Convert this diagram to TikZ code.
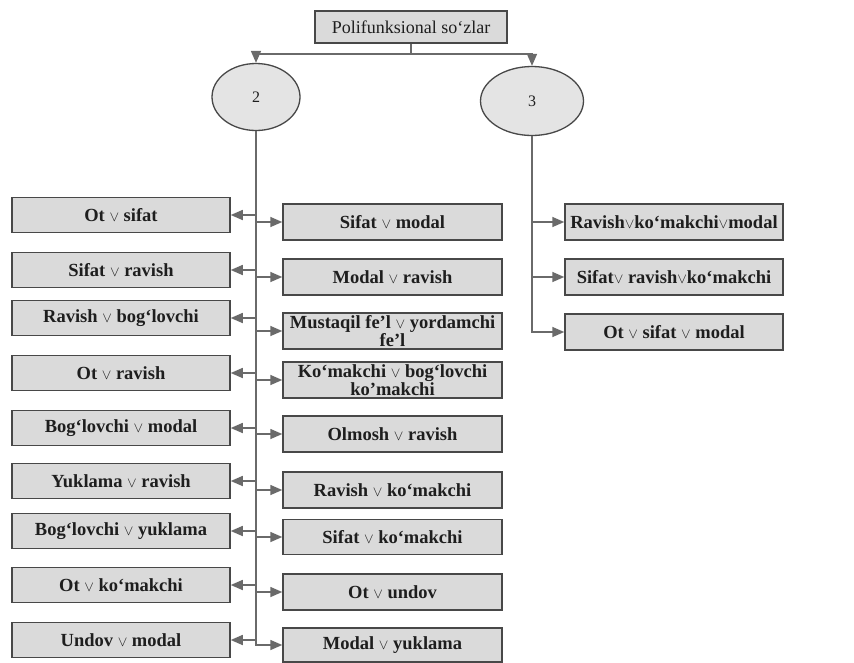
\documentclass[tikz,border=0pt]{standalone}
\usepackage{fontspec}
\setmainfont{Liberation Serif}
\usetikzlibrary{arrows.meta,shapes.geometric}

\definecolor{boxfill}{HTML}{DADADA}
\definecolor{ovalfill}{HTML}{E4E4E4}
\definecolor{edge}{HTML}{484848}
\definecolor{wirec}{HTML}{6A6A6A}
\definecolor{ink}{HTML}{1E1E1E}

% thin disjunction sign used inside the bold labels
\newcommand{\orv}{{\fontsize{15.5}{15}\selectfont$\vee$}}

\tikzset{
  catbox/.style={draw=edge, line width=1.5pt, fill=boxfill, minimum width=218pt,
    minimum height=35pt, inner sep=0pt, text=ink, align=center,
    font=\fontsize{18.5}{18}\selectfont\bfseries},
  twoline/.style={font=\fontsize{18.5}{16}\selectfont\bfseries},
  oval/.style={ellipse, draw=edge, line width=1.3pt, fill=ovalfill, inner sep=0pt,
    text=ink, font=\fontsize{16}{16}\selectfont},
  wire/.style={draw=wirec, line width=1.6pt},
  tip/.style={wire, -{Triangle[length=12pt,width=10pt,fill=wirec]}},
}

\begin{document}
\begin{tikzpicture}[x=1pt, y=-1pt]
  \useasboundingbox (0,0) rectangle (854,662);
  \fill[white] (0,0) rectangle (854,662);

  % root
  \node[catbox, font=\fontsize{18}{18}\selectfont, minimum width=192pt, minimum height=32pt]
    (root) at (411,27) {Polifunksional so‘zlar};
  \coordinate (split) at (411,54);

  % the two groups
  \node[oval, minimum width=88pt, minimum height=67pt] (g2) at (256,97) {2};
  \node[oval, minimum width=103pt, minimum height=69pt] (g3) at (532,101) {3};

  % left column of group 2
  \node[catbox] (L1) at (121,215) {Ot \orv{} sifat};
  \node[catbox] (L2) at (121,270) {Sifat \orv{} ravish};
  \node[catbox] (L3) at (121,318) {Ravish \orv{} bog‘lovchi};
  \node[catbox] (L4) at (121,373) {Ot \orv{} ravish};
  \node[catbox] (L5) at (121,428) {Bog‘lovchi \orv{} modal};
  \node[catbox] (L6) at (121,481) {Yuklama \orv{} ravish};
  \node[catbox] (L7) at (121,531) {Bog‘lovchi \orv{} yuklama};
  \node[catbox] (L8) at (121,585) {Ot \orv{} ko‘makchi};
  \node[catbox] (L9) at (121,640) {Undov \orv{} modal};

  % right column of group 2
  \node[catbox, minimum width=219pt, minimum height=36pt] (M1) at (392.5,222) {Sifat \orv{} modal};
  \node[catbox, minimum width=219pt, minimum height=36pt] (M2) at (392.5,277) {Modal \orv{} ravish};
  \node[catbox, twoline, minimum width=219pt, minimum height=36pt]
    (M3) at (392.5,331) {Mustaqil fe’l \orv{} yordamchi\\fe’l};
  \node[catbox, twoline, minimum width=219pt, minimum height=36pt]
    (M4) at (392.5,380) {Ko‘makchi \orv{} bog‘lovchi\\ko’makchi};
  \node[catbox, minimum width=219pt, minimum height=36pt] (M5) at (392.5,434) {Olmosh \orv{} ravish};
  \node[catbox, minimum width=219pt, minimum height=36pt] (M6) at (392.5,490) {Ravish \orv{} ko‘makchi};
  \node[catbox, minimum width=219pt, minimum height=35pt] (M7) at (392.5,537) {Sifat \orv{} ko‘makchi};
  \node[catbox, minimum width=219pt, minimum height=36pt] (M8) at (392.5,592) {Ot \orv{} undov};
  \node[catbox, minimum width=219pt, minimum height=34pt] (M9) at (392.5,645) {Modal \orv{} yuklama};

  % group 3
  \node[catbox, minimum height=36pt] (Q1) at (674,222) {Ravish\orv{}ko‘makchi\orv{}modal};
  \node[catbox, minimum height=36pt] (Q2) at (674,277) {Sifat\orv{} ravish\orv{}ko‘makchi};
  \node[catbox, minimum height=36pt] (Q3) at (674,332) {Ot \orv{} sifat \orv{} modal};

  % root to groups
  \draw[wire] (root.south) -- (split);
  \draw[tip] (split) -| (g2.north);
  \draw[tip] (split) -| (g3.north);

  % trunk of group 2 and its branches
  \draw[tip] (g2.south) |- (M9.west);
  \foreach \b in {M1,M2,M3,M4,M5,M6,M7,M8}
    \draw[tip] (g2.south |- \b.west) -- (\b.west);
  \foreach \b in {L1,L2,L3,L4,L5,L6,L7,L8,L9}
    \draw[tip] (g2.south |- \b.east) -- (\b.east);

  % trunk of group 3 and its branches
  \draw[tip] (g3.south) |- (Q3.west);
  \foreach \b in {Q1,Q2}
    \draw[tip] (g3.south |- \b.west) -- (\b.west);
\end{tikzpicture}
\end{document}
